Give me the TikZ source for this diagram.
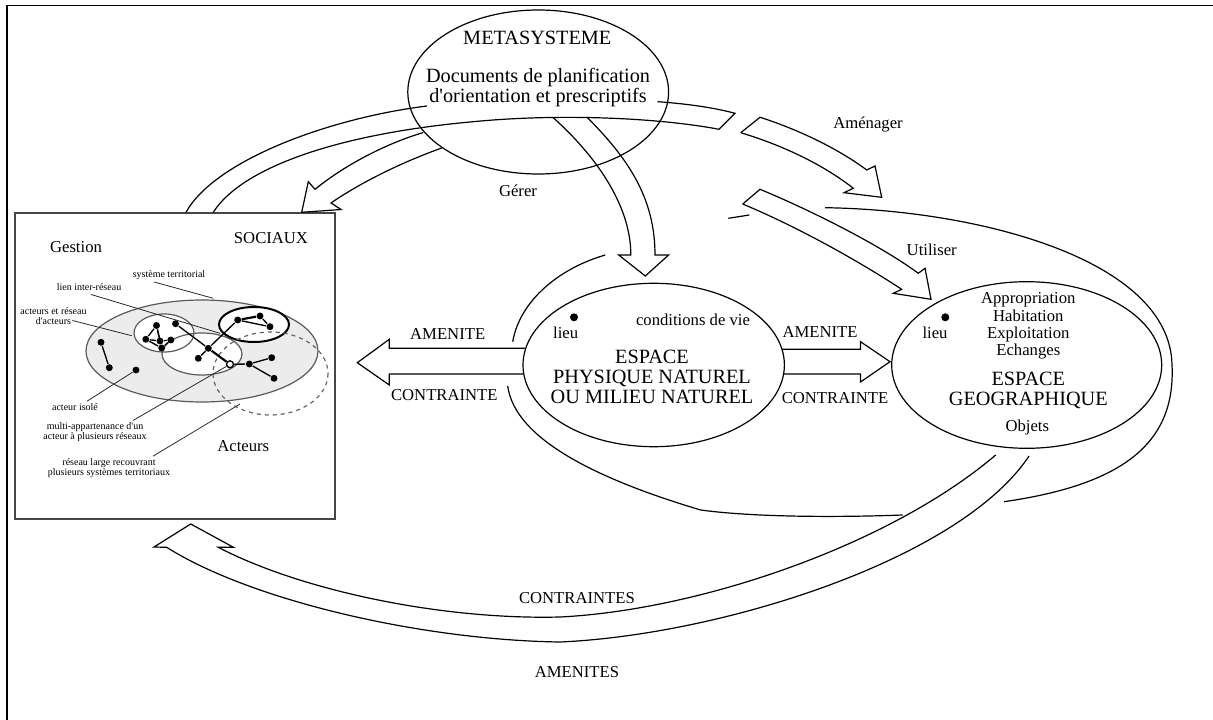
\documentclass[tikz,border=0pt]{standalone}
\usepackage{fontspec}
\setmainfont{Liberation Serif}
\usetikzlibrary{calc}

\tikzset{every picture/.style={line width=0.9pt}}
\tikzset{
  bigtxt/.style={font=\fontsize{15.2}{15}\selectfont, align=center, inner sep=1pt},
  midtxt/.style={font=\fontsize{12.5}{13}\selectfont, align=center, inner sep=1pt},
  smalltxt/.style={font=\fontsize{7.5}{7.6}\selectfont, align=center, inner sep=1pt},
  actor/.style={circle, fill, inner sep=0pt, minimum size=5.2pt},
  bigdot/.style={circle, fill, inner sep=0pt, minimum size=6pt},
  hollow/.style={circle, draw, fill=white, inner sep=0pt, minimum size=5.2pt, line width=1pt},
  link/.style={line width=1pt},
  boldlink/.style={line width=1.6pt},
  leader/.style={line width=0.6pt, draw={rgb, 255:red, 40; green, 40; blue, 40}}
}

\begin{document}
\begin{tikzpicture}[x=0.75pt,y=0.75pt,yscale=-1,xscale=1]
	\useasboundingbox (0,0) rectangle (1213,720);

	%Straight Lines [frame]
	\draw [line width=1.1pt] (7,720) -- (7,5.5) -- (1213,5.5) ;

	%Shape: Ellipse [metasysteme]
	\draw (538.2,92) ellipse (130.4 and 82) ;
	%Shape: Ellipse [espace physique]
	\draw (653.7,365) ellipse (130.7 and 81.7) ;
	%Shape: Ellipse [espace geographique]
	\draw (1026.7,365) ellipse (135 and 83.3) ;
	%Shape: Rectangle [sociaux]
	\draw [draw={rgb, 255:red, 70; green, 70; blue, 70 }, line width=1pt] (15,213) rectangle (335,519) ;

	%Shape: Block Arrow [gerer -> sociaux]
	\draw (423.3,132.5) .. controls (385,144) and (345,165) .. (315,189.3) -- (308.3,181.7) -- (301.7,212.3) -- (341,209.5) -- (331,203) .. controls (360,183) and (400,163) .. (441.7,148) ;
	%Shape: Block Arrow [sociaux -> metasysteme, cut]
	\draw (186,212.3) .. controls (215,160) and (330,118) .. (427,106) ;
	\draw (657.5,101.7) .. controls (690,104) and (715,108) .. (735,113.3) -- (719,129.3) .. controls (660,118) and (560,113) .. (470,122) .. controls (330,135) and (240,170) .. (213.3,212.3) ;
	%Shape: Block Arrow [gerer -> espace physique]
	\draw (553,117.5) .. controls (595,155) and (631,205) .. (630.8,255) -- (618.7,255) -- (645.3,276) -- (668.6,255) -- (655,255) .. controls (655,200) and (630,160) .. (587,117.3) ;
	%Shape: Block Arrow [amenager]
	\draw (740.7,132.7) -- (760,117.3) .. controls (800,130) and (840,150) .. (866.7,170) -- (875,166) -- (881.7,197.3) -- (844,192.7) -- (853.3,188.3) .. controls (825,166) and (785,146) .. (740.7,132.7) ;
	%Shape: Block Arrow [utiliser]
	\draw (742.7,204) -- (760,189.3) .. controls (810,210) and (880,245) .. (918.3,273.3) -- (925,268.3) -- (931,299.3) -- (893.3,293.3) -- (901.7,289.3) .. controls (860,262) and (800,228) .. (742.7,204) ;

	%Curve Lines [loop round espace geographique]
	\draw (728.3,218.3) -- (749.3,215) ;
	\draw (825,207.7) .. controls (980,210) and (1170,260) .. (1172,365) .. controls (1176,445) and (1120,485) .. (1004,501.7) ;
	%Curve Lines [loop round espace physique]
	\draw (605.3,255) .. controls (560,268) and (520,300) .. (512.7,341.7) ;
	\draw (507.7,386) .. controls (515,440) and (600,480) .. (700.7,510) .. controls (760,518) and (850,517) .. (902.7,515) ;

	%Shape: Double Arrow [left]
	\draw (525.7,348.3) -- (389.3,348.3) -- (389.3,339.3) -- (357.3,362.7) -- (389.3,385) -- (389.3,374) -- (523.8,374) ;
	%Shape: Double Arrow [right]
	\draw (781.9,349.3) -- (860.5,349.3) -- (860.5,341.7) -- (890,361.7) -- (860.5,382) -- (860.5,374) -- (783.6,374) ;
	%Shape: Block Arrow [espace geographique -> sociaux]
	\draw (995.7,455) .. controls (890,545) and (700,610) .. (560,617) .. controls (440,620) and (300,590) .. (218.3,547.3) -- (233.5,547.3) -- (190.7,524) -- (154,547) -- (166.7,547.3) .. controls (250,600) and (420,640) .. (560,642) .. controls (720,635) and (960,560) .. (1029,456) ;

	%Shape: Ellipse [systeme territorial]
	\draw [draw={rgb, 255:red, 90; green, 90; blue, 90 }, fill={rgb, 255:red, 236; green, 236; blue, 236 }] (202,351) ellipse (116 and 51) ;
	\fill [white] (164,333) ellipse (30 and 19) ;
	\fill [white] (202,354) ellipse (40 and 21) ;
	\draw [draw={rgb, 255:red, 90; green, 90; blue, 90 }] (164,333) ellipse (30 and 19) ;
	\draw [draw={rgb, 255:red, 90; green, 90; blue, 90 }] (202,354) ellipse (40 and 21) ;
	\draw [line width=1.5pt, fill=white] (254,324.5) ellipse (35 and 17.5) ;
	\draw [dashed, draw={rgb, 255:red, 100; green, 100; blue, 100 }] (270.5,373.5) ellipse (57.5 and 41.5) ;

	% Actors
	\draw (101,342.3) node [actor] (a1) {};
	\draw (109.3,367.7) node [actor] (a2) {};
	\draw (136,370) node [actor] (iso) {};
	\draw (156.5,325.5) node [actor] (n1) {};
	\draw (145.8,339.3) node [actor] (n2) {};
	\draw (160,341) node [actor] (n3) {};
	\draw (161.7,348) node [actor] (n4) {};
	\draw (170.8,340) node [actor] (n5) {};
	\draw (175.5,323.7) node [actor] (n6) {};
	\draw (208.3,348.3) node [actor] (m1) {};
	\draw (198.3,358.3) node [actor] (m2) {};
	\draw (230,364.3) node [hollow] (h) {};
	\draw (237.7,320) node [actor] (t1) {};
	\draw (260,316) node [actor] (t2) {};
	\draw (270,326.7) node [actor] (t3) {};
	\draw (249.3,364) node [actor] (r1) {};
	\draw (271.7,357.7) node [actor] (r2) {};
	\draw (274,378.3) node [actor] (r3) {};

	% Links
	\draw [link] (a1) -- (a2) ;
	\draw [link] (n1) -- (n2) ;
	\draw [link] (n1) -- (n3) ;
	\draw [link] (n1) -- (n4) ;
	\draw [link] (n2) -- (n3) ;
	\draw [link] (n2) -- (n4) ;
	\draw [link] (n3) -- (n5) ;
	\draw [link] (n4) -- (n5) ;
	\draw [link] (n6) -- (m1) ;
	\draw [link] (m1) -- (m2) ;
	\draw [boldlink] (m1) -- (h) ;
	\draw [link] (m1) -- (t1) ;
	\draw [boldlink] (t1) -- (t2) ;
	\draw [link] (t2) -- (t3) ;
	\draw [link] (t1) -- (t3) ;
	\draw [link] (h) -- (r1) ;
	\draw [link] (r1) -- (r2) ;
	\draw [link] (r1) -- (r3) ;

	% Text Node
	\draw (169,275) node [smalltxt] (sysT) {système territorial};
	% Text Node
	\draw (89,287) node [smalltxt] (lienT) {lien inter-réseau};
	% Text Node
	\draw (53.5,316.5) node [smalltxt] (acR) {acteurs et réseau\\d\textquotesingle acteurs};
	% Text Node
	\draw (75,406.7) node [smalltxt] (isoT) {acteur isolé};
	% Text Node
	\draw (95,432) node [smalltxt] (multiT) {multi-appartenance d\textquotesingle un\\acteur à plusieurs réseaux};
	% Text Node
	\draw (109,467.7) node [smalltxt] (resT) {réseau large recouvrant\\plusieurs systèmes territoriaux};

	% Leaders
	\coordinate (pTer) at (213.3,298.3);
	\coordinate (pLien) at (220,333.3);
	\coordinate (pAct) at (131.7,335.7);
	\coordinate (pRes) at (240,404);
	\draw [leader] ($(sysT.south)+(-15,0.5)$) -- (pTer) ;
	\draw [leader] ($(lienT.south)+(2,2)$) -- (pLien) ;
	\draw [leader] ($(acR.east)+(-16,4)$) -- (pAct) ;
	\draw [leader] ($(isoT.north)+(12,0)$) -- (iso) ;
	\draw [leader] ($(multiT.north)+(38,0)$) -- (h) ;
	\draw [leader] ($(resT.north)+(44,0)$) -- (pRes) ;

	% Text Node
	\draw (76,247) node [midtxt] (gestT) {Gestion};
	% Text Node
	\draw (271,238) node [midtxt] (sociT) {SOCIAUX};
	% Text Node
	\draw (243.3,446) node [midtxt] (actT) {Acteurs};

	% Text Node
	\draw (537.3,38.3) node [bigtxt] (metaT) {METASYSTEME};
	% Text Node
	\draw (538,87.3) node [bigtxt] (docT) {Documents de planification\\d\textquotesingle orientation et prescriptifs};
	% Text Node
	\draw (518,191) node [midtxt] (gerT) {Gérer};
	% Text Node
	\draw (868,125) node [midtxt] (amgT) {Aménager};
	% Text Node
	\draw (931.7,250) node [midtxt] (utilT) {Utiliser};

	% Text Node
	\draw (652,376.7) node [bigtxt] (physT) {ESPACE\\PHYSIQUE NATUREL\\OU MILIEU NATUREL};
	% Text Node
	\draw (693,320) node [midtxt] (condT) {conditions de vie};
	% Text Node
	\draw (565.7,332.3) node [midtxt] (lieuP) {lieu};
	\draw (574,317.3) node [bigdot] (lieuPdot) {};
	% Text Node
	\draw (447.7,334) node [midtxt] (amenL) {AMENITE};
	% Text Node
	\draw (444.3,395) node [midtxt] (contrL) {CONTRAINTE};
	% Text Node
	\draw (820,332.3) node [midtxt] (amenR) {AMENITE};
	% Text Node
	\draw (835,397.7) node [midtxt] (contrR) {CONTRAINTE};

	% Text Node
	\draw (1028.3,326.2) node [midtxt] (usesT) {Appropriation\\Habitation\\Exploitation\\Echanges};
	% Text Node
	\draw (1028.3,390) node [bigtxt] (geoT) {ESPACE\\GEOGRAPHIQUE};
	% Text Node
	\draw (1027.3,427.3) node [midtxt] (objT) {Objets};
	% Text Node
	\draw (935,332.7) node [midtxt] (lieuG) {lieu};
	\draw (945.3,317.3) node [bigdot] (lieuGdot) {};

	% Text Node
	\draw (576.9,598.3) node [midtxt] (contrB) {CONTRAINTES};
	% Text Node
	\draw (576.9,671.7) node [midtxt] (amenB) {AMENITES};

\end{tikzpicture}
\end{document}
